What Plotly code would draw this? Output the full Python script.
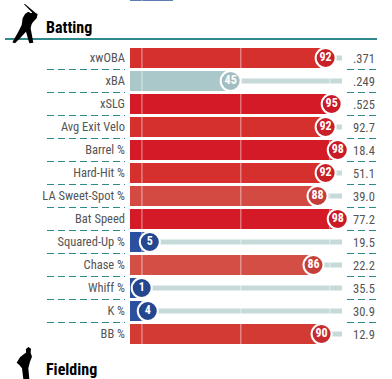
import plotly.graph_objects as go

W, H = 392, 379
labels = ["xwOBA","xBA","xSLG","Avg Exit Velo","Barrel %","Hard-Hit %","LA Sweet-Spot %","Bat Speed","Squared-Up %","Chase %","Whiff %","K %","BB %"]
percentiles = [92,45,95,92,98,92,88,98,5,86,1,4,90]
stats = [".371",".249",".525","92.7","18.4","51.1","39.0","77.2","19.5","22.2","35.5","30.9","12.9"]
bar_colors = ["#d5302e","#aac8ca","#d41a26","#d5302e","#d41a26","#d5302e","#d24a42","#d41a26","#2c50a0","#d34f45","#2c50a0","#2c50a0","#d33a34"]
dot_colors = ["#c92028","#a3bec1","#c91a26","#c92028","#c91a26","#c92028","#c53c38","#c91a26","#24478f","#c53f3a","#24478f","#24478f","#c62c2d"]
prev_section_pct = 16.5
prev_section_color = "#5b7fb5"
tick_refs = [1.1, 50, 94]
TEAL = "#2f8a8c"
FONT = "Roboto Condensed, Roboto"
X0, X1 = -4.8, 100.1
rows = list(range(len(labels)))

def px(v): return v / W
def py(v): return 1 - v / H
def path(pts):
    return "M " + " L ".join(f"{px(x/3):.4f},{py(y/3):.4f}" for x, y in pts) + " Z"

batter = [(72,13),(75,12),(100,33),(108,40),(113,42),(110,55),(100,65),(95,72),(92,85),(100,128),(88,130),(78,95),(60,115),(45,130),(37,127),(55,95),(65,75),(68,55),(75,42),(85,35),(93,40),(97,38)]
fielder = [(78,1047),(85,1041),(93,1046),(92,1058),(96,1070),(90,1085),(85,1105),(88,1137),(70,1137),(66,1105),(58,1095),(50,1088),(60,1072),(72,1062),(78,1058)]

fig = go.Figure()
fig.add_bar(y=[-2.91], x=[prev_section_pct - X0], base=[X0], orientation="h", width=20/23,
            marker=dict(color=prev_section_color, line_width=0), hoverinfo="skip")
fig.add_bar(y=rows, x=[X1 - p for p in percentiles], base=percentiles, orientation="h", width=5/23,
            marker=dict(color="#c5dad9", line_width=0), hoverinfo="skip")
fig.add_bar(y=rows, x=[p - X0 for p in percentiles], base=X0, orientation="h", width=20/23,
            marker=dict(color=bar_colors, line_width=0), hoverinfo="skip")
lx, ly = [], []
for t in tick_refs:
    for r in [-2.91] + rows:
        lx += [t, t, None]
        ly += [r - 0.44, r + 0.44, None]
fig.add_scatter(x=lx, y=ly, mode="lines", line=dict(color="rgba(255,255,255,0.38)", width=1.5), hoverinfo="skip")
fig.add_scatter(x=percentiles, y=rows, mode="markers+text", text=[str(p) for p in percentiles],
                textposition="middle center", cliponaxis=False,
                textfont=dict(family=FONT, size=12, color="white", weight="bold"),
                marker=dict(size=20, color=dot_colors, line=dict(color="white", width=2)), hoverinfo="skip")

shapes = [
    dict(type="line", xref="paper", yref="y", x0=px(5), x1=px(377), y0=-0.826, y1=-0.826, line=dict(color=TEAL, width=2), layer="above"),
    dict(type="path", xref="paper", yref="paper", path=path(batter), fillcolor="black", line_width=0),
    dict(type="path", xref="paper", yref="paper", path=path(fielder), fillcolor="black", line_width=0),
]
for r in rows[:-1]:
    for a, b in ((47, 125), (347, 377)):
        shapes.append(dict(type="line", xref="paper", yref="y", x0=px(a), x1=px(b), y0=r+0.5, y1=r+0.5,
                           line=dict(color=TEAL, width=1, dash="7px,4px")))

ann = [dict(xref="paper", yref="y", x=px(377), y=r, text=s, showarrow=False, xanchor="right",
            font=dict(family=FONT, size=12.5, color="#555555")) for r, s in zip(rows, stats)]
for txt, yp in (("Batting", 27), ("Fielding", 369)):
    ann.append(dict(xref="paper", yref="paper", x=px(43.5), y=py(yp), text=f"<b>{txt}</b>", showarrow=False,
                    xanchor="left", yanchor="middle",
                    font=dict(family=FONT, size=16, color="black")))

fig.update_layout(
    width=W, height=H, margin=dict(l=0, r=0, t=0, b=0), showlegend=False, barmode="overlay",
    paper_bgcolor="white", plot_bgcolor="white", shapes=shapes, annotations=ann,
    xaxis=dict(domain=[130/W, 342/W], range=[X0, X1], showgrid=False, zeroline=False, showticklabels=False, ticks=""),
    yaxis=dict(domain=[0, 1], range=[(379-58)/23, -58/23], showgrid=False, zeroline=False, tickmode="array",
               tickvals=rows, ticktext=labels, ticks="", ticklabelstandoff=4, anchor="x",
               tickfont=dict(family=FONT, size=12.5, color="#555555")),
)
fig.write_html("out.html", config=dict(displayModeBar=False),
               post_script="document.body.style.margin='0';document.body.style.overflow='hidden';"
                           "var s=document.createElement('style');s.textContent='svg text{font-stretch:75%}';document.head.appendChild(s);")
